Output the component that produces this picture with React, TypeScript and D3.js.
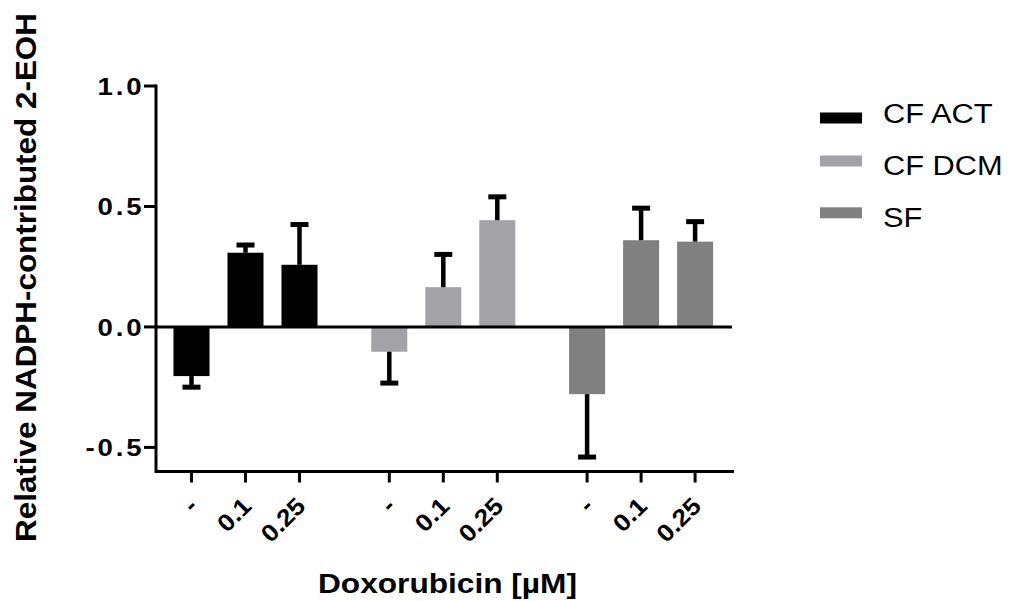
import React from "react";
import * as d3 from "d3";

const groups = ["CF ACT", "CF DCM", "SF"];
const doses = ["-", "0.1", "0.25"];
const cfActValues = [-0.204, 0.308, 0.258];
const cfActErrors = [0.046, 0.032, 0.167];
const cfDcmValues = [-0.103, 0.165, 0.443];
const cfDcmErrors = [0.13, 0.136, 0.097];
const sfValues = [-0.279, 0.36, 0.354];
const sfErrors = [0.261, 0.133, 0.083];
const yTicks = [-0.5, 0.0, 0.5, 1.0];
const colors = ["#000000", "#a3a2a7", "#808080"];

const seriesValues = [cfActValues, cfDcmValues, sfValues];
const seriesErrors = [cfActErrors, cfDcmErrors, sfErrors];

const FONT = "'Liberation Sans', Arial, Helvetica, sans-serif";
const fmt = (t: number) => d3.format(".1f")(t).replace("\u2212", "-");

export default function App() {
  const W = 1011;
  const H = 601;
  const axisX = 156;
  const axisRight = 734;
  const y = d3.scaleLinear().domain([-0.6, 1.0]).range([471.5, 86]);
  const xGroup = d3.scaleBand<string>().domain(groups).range([146.6, 740]).paddingInner(0).paddingOuter(0);
  const xDose = d3
    .scaleBand<string>()
    .domain(doses)
    .range([0, xGroup.bandwidth()])
    .paddingInner(0.333)
    .paddingOuter(0.498);

  const bars = groups.flatMap((g, gi) =>
    doses.map((d, di) => {
      const v = seriesValues[gi][di];
      const e = seriesErrors[gi][di];
      const x0 = (xGroup(g) as number) + (xDose(d) as number);
      return { g, d, gi, di, v, e, x0, cx: x0 + xDose.bandwidth() / 2 };
    })
  );

  const bottom = y(-0.6);
  const zero = y(0);

  return (
    <svg
      width={W}
      height={H}
      style={{ position: "absolute", left: 0, top: 0, background: "#fff" }}
      fontFamily={FONT}
    >
      <rect x={0} y={0} width={W} height={H} fill="#fff" />
      {/* bars */}
      {bars.map((b) => (
        <rect
          key={`bar-${b.gi}-${b.di}`}
          x={b.x0}
          y={Math.min(y(b.v), zero)}
          width={xDose.bandwidth()}
          height={Math.abs(y(b.v) - zero)}
          fill={colors[b.gi]}
        />
      ))}
      {/* error bars */}
      {bars.map((b) => {
        const end = b.v >= 0 ? b.v + b.e : b.v - b.e;
        return (
          <g key={`err-${b.gi}-${b.di}`} stroke="#000" fill="none">
            <line x1={b.cx} x2={b.cx} y1={y(b.v)} y2={y(end)} strokeWidth={4.5} />
            <line x1={b.cx - 9} x2={b.cx + 9} y1={y(end)} y2={y(end)} strokeWidth={5} />
          </g>
        );
      })}
      {/* zero line */}
      <line x1={axisX} x2={732} y1={zero} y2={zero} stroke="#000" strokeWidth={3} />
      {/* y axis */}
      <line x1={axisX} x2={axisX} y1={y(1.0) - 1.5} y2={bottom + 1.5} stroke="#000" strokeWidth={3} />
      {yTicks.map((t) => (
        <g key={`yt-${t}`}>
          <line x1={axisX - 12} x2={axisX} y1={y(t)} y2={y(t)} stroke="#000" strokeWidth={3} />
          <text
            transform={`translate(144.5,${y(t)}) scale(1.15,1)`}
            dy="0.36em"
            textAnchor="end"
            fontSize={24}
            fontWeight="bold"
            letterSpacing={2.5}
            fill="#000"
          >
            {fmt(t)}
          </text>
        </g>
      ))}
      {/* x axis */}
      <line x1={axisX} x2={axisRight} y1={bottom} y2={bottom} stroke="#000" strokeWidth={3} />
      {bars.map((b) => (
        <g key={`xt-${b.gi}-${b.di}`}>
          <line x1={b.cx} x2={b.cx} y1={bottom} y2={bottom + 11} stroke="#000" strokeWidth={3} />
          <text
            transform={`translate(${b.cx + 7.5},${bottom + 36}) rotate(-45) scale(1.1,1)`}
            textAnchor="end"
            fontSize={24}
            fontWeight="bold"
            fill="#000"
          >
            {b.d}
          </text>
        </g>
      ))}
      {/* axis titles */}
      <text
        x={447.5}
        y={593}
        textAnchor="middle"
        fontSize={28}
        fontWeight="bold"
        fill="#000"
        textLength={259}
        lengthAdjust="spacingAndGlyphs"
      >
        Doxorubicin [µM]
      </text>
      <text
        transform={`translate(36,277.5) rotate(-90)`}
        textAnchor="middle"
        fontSize={29}
        fontWeight="bold"
        fill="#000"
        textLength={529}
        lengthAdjust="spacingAndGlyphs"
      >
        Relative NADPH-contributed 2-EOH
      </text>
      {/* legend */}
      {groups.map((g, i) => {
        const baseline = 123 + i * 51.8;
        const boxTop = i === 0 ? baseline - 10.5 : baseline - 19.3;
        return (
          <g key={`lg-${g}`}>
            <rect x={820} y={boxTop} width={42} height={11} fill={colors[i]} />
            <text
              transform={`translate(883,${baseline}) scale(1.1,1)`}
              fontSize={28}
              fill="#000"
            >
              {g}
            </text>
          </g>
        );
      })}
    </svg>
  );
}
